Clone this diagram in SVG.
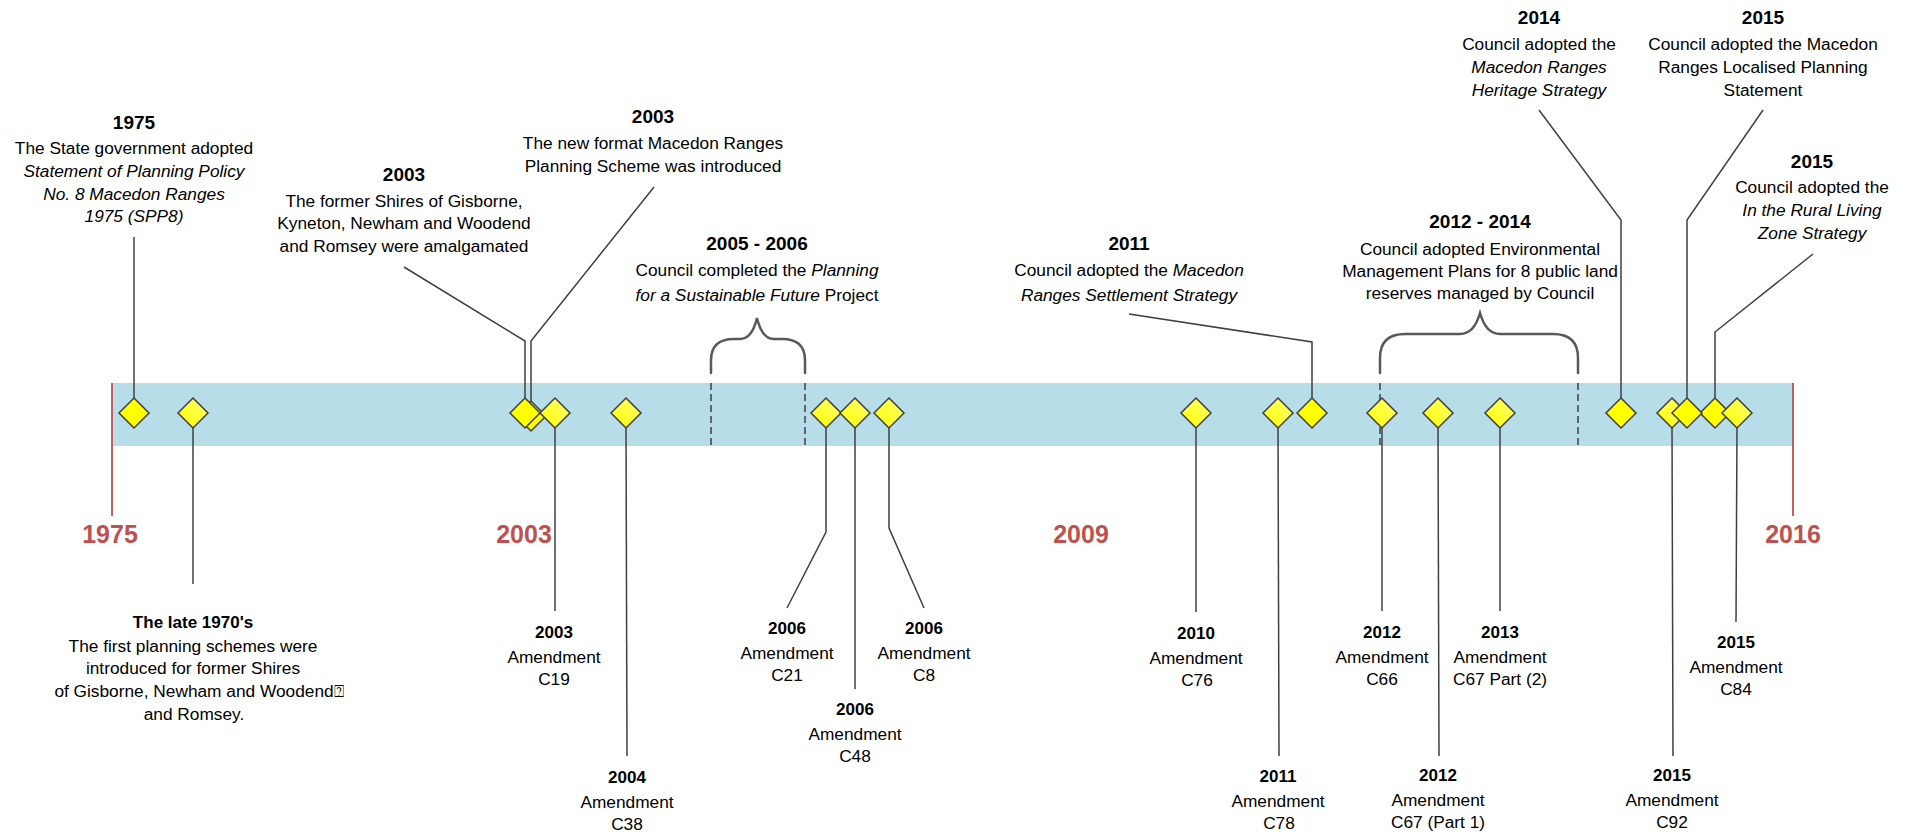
<svg xmlns="http://www.w3.org/2000/svg" width="1912" height="834" viewBox="0 0 1912 834">
<style>
text{font-family:"Liberation Sans",Arial,sans-serif;fill:#000;text-anchor:middle}
.b{font-size:17.3px}
.t{font-size:19px;font-weight:bold}
.ts{font-size:17px;font-weight:bold}
.i{font-style:italic}
.yr{font-size:25px;font-weight:bold;fill:#C0504D}
.ln{stroke:#404040;stroke-width:1.5;fill:none}
.br{stroke:#595959;stroke-width:2.5;fill:none;stroke-linecap:round}
.ds{stroke:#404040;stroke-width:1.5;stroke-dasharray:7 4;fill:none}
.red{stroke:#C0504D;stroke-width:1.8}
.dia{stroke:#404040;stroke-width:1.5;fill:#FFFF00}
.dg{stroke:#404040;stroke-width:1.5;fill:url(#g)}
</style>
<defs>
<linearGradient id="g" x1="0" y1="1" x2="1" y2="0">
<stop offset="0" stop-color="#FFFF00"/>
<stop offset="1" stop-color="#FFFF70"/>
</linearGradient>
<path id="d" d="M0,-15 L15,0 L0,15 L-15,0Z"/>
</defs>
<rect width="1912" height="834" fill="#FFFFFF"/>
<g id="axis">
<rect x="112" y="383" width="1681" height="63" fill="#B7DDE8"/>
<line class="red" x1="112" y1="383" x2="112" y2="516"/>
<line class="red" x1="1793" y1="383" x2="1793" y2="516"/>
<text class="yr" x="110" y="543">1975</text>
<text class="yr" x="524" y="543">2003</text>
<text class="yr" x="1081" y="543">2009</text>
<text class="yr" x="1793" y="543">2016</text>
</g>
<g id="connectors">
<line class="ds" x1="711" y1="383" x2="711" y2="446"/>
<line class="ds" x1="805" y1="383" x2="805" y2="446"/>
<line class="ds" x1="1380" y1="383" x2="1380" y2="446"/>
<line class="ds" x1="1578" y1="383" x2="1578" y2="446"/>
<path class="br" d="M711,373 L711,360 Q711,339 734,339 L740,339 Q752,339 757,318 Q762,339 774,339 L782,339 Q805,339 805,360 L805,373"/>
<path class="br" d="M1380,373 L1380,358 Q1380,334 1405,334 L1460,334 Q1474,334 1480,313 Q1486,334 1500,334 L1553,334 Q1578,334 1578,358 L1578,373"/>
<path class="ln" d="M134,237 L134,400"/>
<path class="ln" d="M404,267 L525,341 L525,400"/>
<path class="ln" d="M654,187 L531,341 L531,404"/>
<path class="ln" d="M1129,314 L1312,342 L1312,400"/>
<path class="ln" d="M1539,110 L1621,220 L1621,400"/>
<path class="ln" d="M1763,110 L1687,220 L1687,400"/>
<path class="ln" d="M1813,254 L1715,332 L1715,400"/>
<path class="ln" d="M193,426 L193,584"/>
<path class="ln" d="M555,426 L555,611"/>
<path class="ln" d="M626,426 L627,756"/>
<path class="ln" d="M826,426 L826,532 L787,608"/>
<path class="ln" d="M855,426 L855,689"/>
<path class="ln" d="M889,426 L889,528 L924,608"/>
<path class="ln" d="M1196,426 L1196,612"/>
<path class="ln" d="M1278,426 L1279,756"/>
<path class="ln" d="M1382,426 L1382,611"/>
<path class="ln" d="M1438,426 L1439,756"/>
<path class="ln" d="M1500,426 L1500,611"/>
<path class="ln" d="M1672,426 L1673,756"/>
<path class="ln" d="M1737,426 L1736,622"/>
</g>
<g id="n1975">
<use href="#d" x="134" y="413" class="dia"/>
<text class="t" x="134" y="129">1975</text>
<text class="b" x="134" y="154">The State government adopted</text>
<text class="b i" x="134" y="177">Statement of Planning Policy</text>
<text class="b i" x="134" y="200">No. 8 Macedon Ranges</text>
<text class="b i" x="134" y="222">1975 (SPP8)</text>
</g>
<g id="n1970s">
<use href="#d" x="193" y="413" class="dg"/>
<text class="ts" x="193" y="628">The late 1970's</text>
<text class="b" x="193" y="652">The first planning schemes were</text>
<text class="b" x="193" y="674">introduced for former Shires</text>
<text class="b" x="199" y="697">of Gisborne, Newham and Woodend⍰</text>
<text class="b" x="194" y="720">and Romsey.</text>
</g>
<g id="n2003new">
<use href="#d" x="531" y="416" class="dia"/>
<text class="t" x="653" y="123">2003</text>
<text class="b" x="653" y="149">The new format Macedon Ranges</text>
<text class="b" x="653" y="172">Planning Scheme was introduced</text>
</g>
<g id="n2003amal">
<use href="#d" x="525" y="413" class="dia"/>
<text class="t" x="404" y="181">2003</text>
<text class="b" x="404" y="207">The former Shires of Gisborne,</text>
<text class="b" x="404" y="229">Kyneton, Newham and Woodend</text>
<text class="b" x="404" y="252">and Romsey were amalgamated</text>
</g>
<g id="nC19">
<use href="#d" x="555" y="413" class="dg"/>
<text class="ts" x="554" y="638">2003</text>
<text class="b" x="554" y="663">Amendment</text>
<text class="b" x="554" y="685">C19</text>
</g>
<g id="nC38">
<use href="#d" x="626" y="413" class="dg"/>
<text class="ts" x="627" y="783">2004</text>
<text class="b" x="627" y="808">Amendment</text>
<text class="b" x="627" y="830">C38</text>
</g>
<g id="n2005">
<text class="t" x="757" y="250">2005 - 2006</text>
<text class="b" x="757" y="276">Council completed the <tspan class="i">Planning</tspan></text>
<text class="b" x="757" y="301"><tspan class="i">for a Sustainable Future</tspan> Project</text>
</g>
<g id="nC21">
<use href="#d" x="826" y="413" class="dg"/>
<text class="ts" x="787" y="634">2006</text>
<text class="b" x="787" y="659">Amendment</text>
<text class="b" x="787" y="681">C21</text>
</g>
<g id="nC48">
<use href="#d" x="855" y="413" class="dg"/>
<text class="ts" x="855" y="715">2006</text>
<text class="b" x="855" y="740">Amendment</text>
<text class="b" x="855" y="762">C48</text>
</g>
<g id="nC8">
<use href="#d" x="889" y="413" class="dg"/>
<text class="ts" x="924" y="634">2006</text>
<text class="b" x="924" y="659">Amendment</text>
<text class="b" x="924" y="681">C8</text>
</g>
<g id="nC76">
<use href="#d" x="1196" y="413" class="dg"/>
<text class="ts" x="1196" y="639">2010</text>
<text class="b" x="1196" y="664">Amendment</text>
<text class="b" x="1197" y="686">C76</text>
</g>
<g id="nC78">
<use href="#d" x="1278" y="413" class="dg"/>
<text class="ts" x="1278" y="782">2011</text>
<text class="b" x="1278" y="807">Amendment</text>
<text class="b" x="1279" y="829">C78</text>
</g>
<g id="n2011">
<use href="#d" x="1312" y="413" class="dia"/>
<text class="t" x="1129" y="250">2011</text>
<text class="b" x="1129" y="276">Council adopted the <tspan class="i">Macedon</tspan></text>
<text class="b i" x="1129" y="301">Ranges Settlement Strategy</text>
</g>
<g id="n2012">
<text class="t" x="1480" y="228">2012 - 2014</text>
<text class="b" x="1480" y="255">Council adopted Environmental</text>
<text class="b" x="1480" y="277">Management Plans for 8 public land</text>
<text class="b" x="1480" y="299">reserves managed by Council</text>
</g>
<g id="nC66">
<use href="#d" x="1382" y="413" class="dg"/>
<text class="ts" x="1382" y="638">2012</text>
<text class="b" x="1382" y="663">Amendment</text>
<text class="b" x="1382" y="685">C66</text>
</g>
<g id="nC67p1">
<use href="#d" x="1438" y="413" class="dg"/>
<text class="ts" x="1438" y="781">2012</text>
<text class="b" x="1438" y="806">Amendment</text>
<text class="b" x="1438" y="828">C67 (Part 1)</text>
</g>
<g id="nC67p2">
<use href="#d" x="1500" y="413" class="dg"/>
<text class="ts" x="1500" y="638">2013</text>
<text class="b" x="1500" y="663">Amendment</text>
<text class="b" x="1500" y="685">C67 Part (2)</text>
</g>
<g id="n2014">
<use href="#d" x="1621" y="413" class="dia"/>
<text class="t" x="1539" y="24">2014</text>
<text class="b" x="1539" y="50">Council adopted the</text>
<text class="b i" x="1539" y="73">Macedon Ranges</text>
<text class="b i" x="1539" y="96">Heritage Strategy</text>
</g>
<g id="nC92">
<use href="#d" x="1672" y="413" class="dg"/>
<text class="ts" x="1672" y="781">2015</text>
<text class="b" x="1672" y="806">Amendment</text>
<text class="b" x="1672" y="828">C92</text>
</g>
<g id="n2015rural">
<use href="#d" x="1715" y="413" class="dia"/>
<text class="t" x="1812" y="168">2015</text>
<text class="b" x="1812" y="193">Council adopted the</text>
<text class="b i" x="1812" y="216">In the Rural Living</text>
<text class="b i" x="1812" y="239">Zone Strategy</text>
</g>
<g id="n2015loc">
<use href="#d" x="1687" y="413" class="dia"/>
<text class="t" x="1763" y="24">2015</text>
<text class="b" x="1763" y="50">Council adopted the Macedon</text>
<text class="b" x="1763" y="73">Ranges Localised Planning</text>
<text class="b" x="1763" y="96">Statement</text>
</g>
<g id="nC84">
<use href="#d" x="1737" y="413" class="dg"/>
<text class="ts" x="1736" y="648">2015</text>
<text class="b" x="1736" y="673">Amendment</text>
<text class="b" x="1736" y="695">C84</text>
</g>
</svg>
